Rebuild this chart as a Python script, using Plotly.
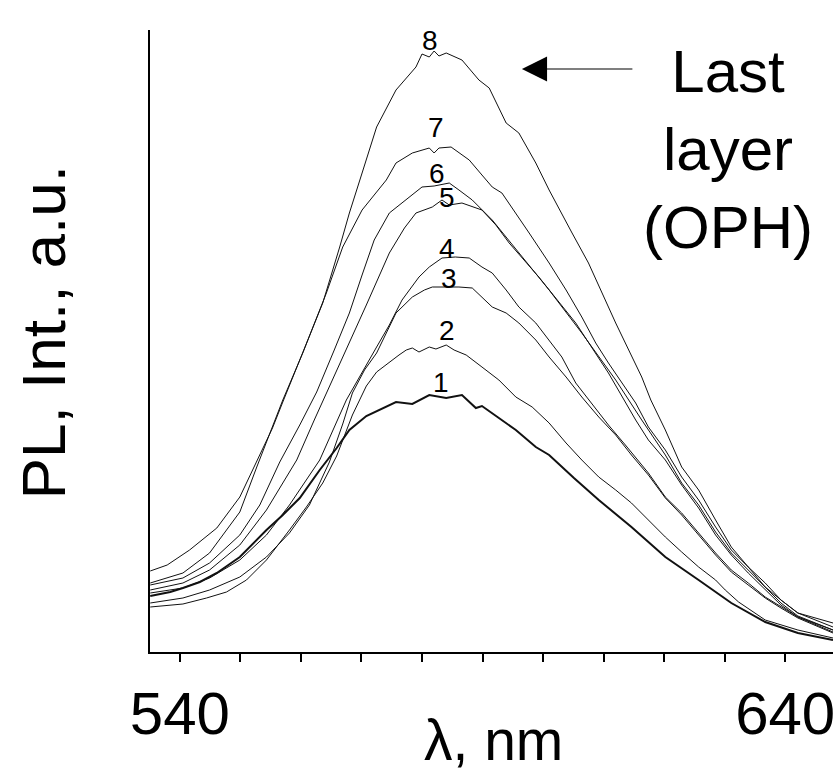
import plotly.graph_objects as go

# ---- data (wavelength in nm, PL intensity in a.u.) ----
wl_8 = [535.1, 537.9, 541.6, 546.1, 549.9, 552.7, 555.3, 557.0, 560.3, 563.6, 566.4, 568.0, 570.1, 572.5, 575.7, 579.0,
        580.0, 581.2, 582.0, 582.8, 584.0, 586.6, 589.4, 591.1, 593.9, 596.0, 598.8, 601.0, 604.7, 607.5, 612.0, 616.3,
        617.8, 620.2, 622.9, 625.7, 628.5, 631.1, 633.9, 636.7, 639.3, 642.1, 647.9]
pl_8 = [81, 87, 102, 124, 155, 190, 224, 250, 299, 349, 405, 439, 479, 525, 562, 585,
        598, 595, 601, 596, 599, 592, 572, 564, 529, 519, 489, 462, 420, 389, 329, 275,
        252, 222, 185, 162, 132, 105, 85, 65, 52, 39, 29]

wl_7 = [535.1, 540.5, 544.9, 549.9, 552.7, 557.0, 560.3, 564.2, 566.9, 570.1, 574.1, 575.7, 578.4, 581.2, 582.0, 582.8,
        584.8, 586.6, 587.8, 589.9, 591.6, 593.2, 595.5, 597.7, 601.0, 603.8, 606.4, 608.7, 610.8, 613.0, 615.3, 617.4,
        620.2, 622.9, 625.7, 628.5, 631.1, 633.9, 636.7, 639.3, 642.1, 647.9]
pl_7 = [69, 79, 99, 140, 185, 252, 299, 359, 405, 442, 472, 489, 499, 504, 499, 504,
        505, 497, 492, 477, 465, 459, 439, 419, 389, 362, 335, 309, 289, 269, 249, 225,
        202, 175, 152, 125, 102, 85, 69, 52, 39, 25]

wl_6 = [535.1, 540.5, 544.9, 549.9, 553.2, 556.5, 559.8, 562.6, 565.5, 568.0, 570.1, 572.1, 574.6, 577.9, 580.0, 582.0,
        584.5, 586.1, 588.3, 591.6, 596.0, 601.0, 606.4, 612.0, 616.3, 620.2, 622.9, 625.7, 628.5, 631.1, 633.9, 636.7,
        639.3, 642.1, 647.9]
pl_6 = [67, 74, 89, 117, 147, 190, 227, 260, 302, 339, 377, 412, 439, 455, 465, 466,
        469, 462, 452, 432, 399, 362, 319, 272, 232, 197, 169, 147, 120, 99, 82, 65,
        49, 36, 22]

wl_5 = [535.1, 540.5, 544.9, 549.9, 554.3, 559.3, 562.2, 565.2, 568.0, 570.8, 574.6, 577.1, 579.0, 581.7, 583.3, 584.5,
        586.6, 589.9, 592.2, 594.4, 599.3, 605.4, 610.8, 615.3, 617.4, 620.2, 622.9, 625.7, 628.5, 631.1, 633.9, 636.7,
        639.3, 642.1, 647.9]
pl_5 = [62, 69, 82, 107, 142, 192, 232, 272, 309, 347, 399, 424, 439, 445, 452, 447,
        449, 442, 427, 409, 375, 329, 279, 232, 212, 192, 167, 144, 117, 97, 79, 62,
        47, 35, 22]

wl_4 = [535.1, 540.5, 544.9, 549.9, 554.3, 558.1, 563.1, 567.5, 572.5, 574.6, 576.7, 579.5, 581.2, 583.3, 585.5, 587.8,
        589.9, 591.6, 593.9, 596.0, 598.8, 601.0, 603.1, 605.4, 608.0, 610.8, 613.6, 617.4, 620.2, 622.9, 625.7, 628.5,
        631.1, 633.9, 636.7, 639.3, 642.1, 647.9]
pl_4 = [59, 64, 74, 92, 117, 147, 192, 252, 305, 327, 352, 375, 385, 394, 395, 394,
        385, 379, 362, 345, 329, 312, 295, 269, 249, 227, 207, 179, 155, 139, 119, 99,
        82, 69, 55, 45, 35, 20]

wl_3 = [535.1, 540.5, 544.9, 549.9, 554.3, 558.1, 561.4, 564.7, 566.9, 568.5, 570.5, 572.5, 574.1, 575.7, 578.4, 580.4,
        581.7, 584.0, 586.1, 588.3, 589.9, 591.6, 593.9, 596.0, 598.8, 601.0, 603.8, 606.4, 609.2, 612.0, 614.6, 617.4,
        620.2, 622.9, 625.7, 628.5, 631.1, 633.9, 636.7, 639.3, 642.1, 647.9]
pl_3 = [49, 54, 62, 75, 95, 119, 147, 190, 228, 259, 282, 299, 319, 339, 355, 362,
        365, 365, 365, 364, 355, 345, 339, 329, 312, 295, 275, 255, 235, 217, 197, 177,
        154, 137, 117, 97, 80, 67, 54, 44, 34, 19]

wl_2 = [535.1, 540.5, 544.4, 547.7, 551.0, 554.3, 558.1, 560.9, 563.6, 565.9, 568.5, 570.8, 572.5, 574.6, 576.2, 577.4,
        578.4, 579.5, 581.2, 582.3, 584.0, 585.3, 587.3, 589.9, 592.7, 595.5, 598.2, 601.0, 603.8, 606.4, 609.2, 612.0,
        614.6, 617.4, 620.2, 622.9, 625.7, 628.5, 630.1, 632.3, 636.7, 642.1, 647.9]
pl_2 = [45, 48, 54, 60, 72, 92, 122, 145, 169, 196, 237, 266, 280, 290, 297, 302,
        304, 300, 305, 303, 307, 302, 297, 285, 272, 255, 245, 229, 209, 192, 175, 162,
        149, 132, 115, 100, 85, 72, 62, 50, 32, 22, 14]

wl_1 = [535.1, 538.4, 540.5, 543.3, 546.1, 549.9, 554.3, 557.0, 559.8, 563.1, 565.9, 568.0, 570.8, 572.9, 574.6, 575.7,
        578.4, 581.2, 584.0, 586.6, 588.9, 589.9, 592.7, 595.5, 598.8, 601.0, 605.1, 609.2, 614.6, 620.2, 625.7, 631.1,
        636.7, 642.1, 647.9]
pl_1 = [56, 60, 64, 70, 79, 95, 122, 137, 154, 182, 204, 222, 236, 242, 247, 250,
        248, 257, 254, 257, 244, 246, 234, 222, 205, 197, 174, 152, 125, 95, 72, 49,
        30, 19, 12]

series = [("1", wl_1, pl_1, 2.0), ("2", wl_2, pl_2, 1.0), ("3", wl_3, pl_3, 1.0), ("4", wl_4, pl_4, 1.0),
          ("5", wl_5, pl_5, 1.0), ("6", wl_6, pl_6, 1.0), ("7", wl_7, pl_7, 1.0), ("8", wl_8, pl_8, 1.0)]

# curve label positions (nm, a.u.)
label_text = ["1", "2", "3", "4", "5", "6", "7", "8"]
label_x = [583.2, 584.2, 584.5, 584.2, 584.2, 582.5, 582.3, 581.4]
label_y = [270, 322, 374, 404, 455, 479, 525, 612]

x_ticks = [540, 550, 560, 570, 580, 590, 600, 610, 620, 630, 640]
x_tick_text = ["540", "", "", "", "", "", "", "", "", "", "640"]

FONT = "Arial, 'Liberation Sans', sans-serif"

fig = go.Figure()
for name, x, y, w in series:
    fig.add_trace(go.Scatter(x=x, y=y, mode="lines", name=name,
                             line=dict(color="#111111", width=w), showlegend=False))

for t, x, y in zip(label_text, label_x, label_y):
    fig.add_annotation(x=x, y=y, text=t, showarrow=False,
                       font=dict(family=FONT, size=28, color="black"))

# arrow pointing to last layer curve
fig.add_annotation(x=596.5, y=583, ax=112, ay=0, text="", showarrow=True,
                   arrowhead=2, arrowsize=4.2, arrowwidth=1.2, arrowcolor="black", standoff=0)
fig.add_annotation(xref="paper", yref="paper", x=0.8467, y=(652 - 150) / 622,
                   text="Last<br>layer<br>(OPH)", showarrow=False, align="center",
                   xanchor="center", yanchor="middle",
                   font=dict(family=FONT, size=60, color="black"))

# axis titles
fig.add_annotation(xref="paper", yref="paper", x=(495 - 150) / 685, y=(652 - 740) / 622,
                   text="λ, nm", showarrow=False, xanchor="center", yanchor="middle",
                   font=dict(family=FONT, size=57, color="black"))
fig.add_annotation(xref="paper", yref="paper", x=(43 - 150) / 685, y=(652 - 332) / 622,
                   text="PL, Int., a.u.", textangle=-90, showarrow=False,
                   xanchor="center", yanchor="middle",
                   font=dict(family=FONT, size=62, color="black"))

fig.update_layout(
    width=835, height=773,
    margin=dict(l=150, r=0, t=30, b=121),
    paper_bgcolor="white", plot_bgcolor="white",
    xaxis=dict(range=[535.06, 647.9], showgrid=False, zeroline=False, showline=True,
               linecolor="black", linewidth=1.5, ticks="outside", ticklen=8, tickwidth=1.5,
               tickcolor="black", tickvals=x_ticks, ticktext=x_tick_text,
               tickfont=dict(family=FONT, size=60, color="black"), ticklabelstandoff=0,
               ticklabeloverflow="allow"),
    yaxis=dict(range=[0, 622], showgrid=False, zeroline=False, showline=True,
               linecolor="black", linewidth=1.5, ticks="", showticklabels=False),
)

fig.write_html("out.html")
